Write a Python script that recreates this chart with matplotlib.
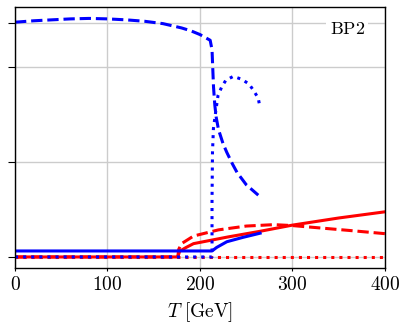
import matplotlib
matplotlib.use("Agg")
import matplotlib.pyplot as plt

plt.rcParams['mathtext.fontset'] = 'cm'
plt.rcParams['font.family'] = ['DejaVu Serif']

# --- data (T in GeV, v in GeV) ---
blue_dashed_T = [0, 20, 40, 60, 80, 100, 120, 140, 160, 180, 190, 200, 211, 213, 214.6, 216, 217.5, 220, 225, 229, 235, 240, 250, 263]
blue_dashed_v = [247, 248.5, 249.5, 250.5, 251, 250.5, 249.5, 248, 245.5, 241, 238, 234, 228, 218, 179, 160, 147, 134, 119, 110, 98, 89, 76, 65]

blue_dotted_T = [0, 213, 213, 213.5, 214.5, 217, 219.5, 223.5, 228, 236, 245, 253, 258, 263, 264.5]
blue_dotted_v = [0, 0, 60, 110, 135, 153, 170, 179, 186, 190, 187, 182, 175, 167, 159]

blue_solid_T = [0, 213, 218, 229, 246, 265]
blue_solid_v = [6.3, 6.3, 10, 16, 20.5, 25]

red_solid_T = [0, 176, 178, 185, 193, 230, 265, 300, 350, 400]
red_solid_v = [0, 0, 6, 10, 14, 21, 27, 33.5, 41, 47.5]

red_dashed_T = [0, 176, 177, 180, 193, 220, 250, 280, 300, 330, 360, 400]
red_dashed_v = [0, 0, 8, 14, 22, 28.5, 32.5, 34, 33, 30.5, 28, 24.5]

red_dotted_T = [0, 400]
red_dotted_v = [0, 0]

x_ticks = [0, 100, 200, 300, 400]
x_tick_labels = [r'$0$', r'$100$', r'$200$', r'$300$', r'$400$']
y_ticks = [0, 100, 200, 246]

fig = plt.figure(figsize=(4.01, 3.26), dpi=100)
ax = fig.add_axes([0.0374, 0.178, 0.9227, 0.8005])

lw = 2.2
ax.plot(red_solid_T, red_solid_v, color='red', lw=lw, ls='-')
ax.plot(red_dashed_T, red_dashed_v, color='red', lw=lw, ls='--')
ax.plot(red_dotted_T, red_dotted_v, color='red', lw=lw, ls=':')
ax.plot(blue_solid_T, blue_solid_v, color='blue', lw=lw, ls='-')
ax.plot(blue_dashed_T, blue_dashed_v, color='blue', lw=lw, ls='--')
ax.plot(blue_dotted_T, blue_dotted_v, color='blue', lw=lw, ls=':')

ax.set_xlim(0, 400)
ax.set_ylim(-11.6, 263)
ax.set_xticks(x_ticks)
ax.set_xticklabels(x_tick_labels, fontsize=14)
ax.set_yticks(y_ticks)
ax.set_yticklabels([])
ax.tick_params(axis='x', direction='out', length=2, pad=4)
ax.tick_params(axis='y', direction='out', length=5)
ax.grid(True, color='#cccccc', lw=1)
ax.set_axisbelow(True)
for s in ax.spines.values():
    s.set_color('black')
    s.set_linewidth(1)

ax.set_xlabel(r'$T\ [\mathrm{GeV}]$', fontsize=14, labelpad=4)

ax.text(0.946, 0.915, r'$\mathrm{BP2}$', transform=ax.transAxes, ha='right', va='center',
        fontsize=13, bbox=dict(facecolor='white', edgecolor='none', pad=2.5))

fig.savefig('out.png', dpi=100)
